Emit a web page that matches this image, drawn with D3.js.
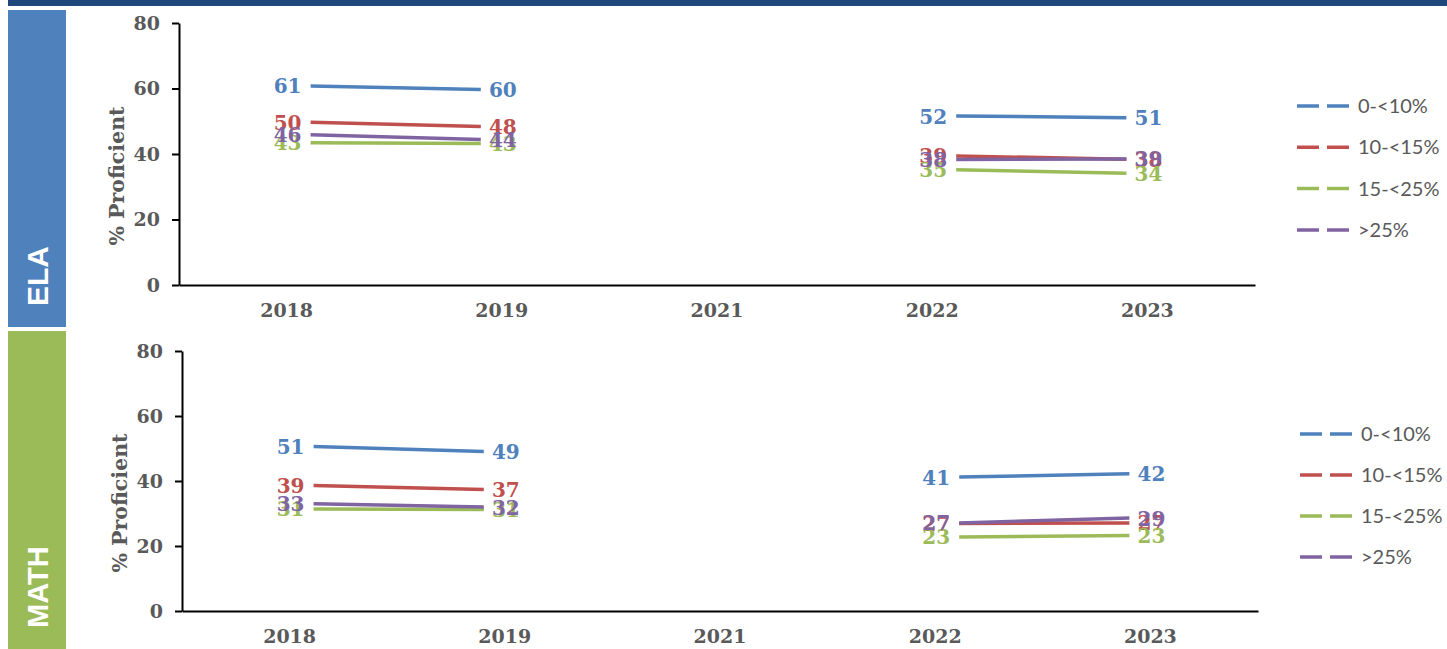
<!DOCTYPE html>
<html>
<head>
<meta charset="utf-8">
<script src="https://cdn.jsdelivr.net/npm/d3@7"></script>
<style>
  body { margin: 0; background: #fff; }
  svg { display: block; }
</style>
</head>
<body>
<div id="chart"></div>
<script>
// Chart values
var years = ["2018", "2019", "2021", "2022", "2023"];
var groups = ["0-<10%", "10-<15%", "15-<25%", ">25%"];
var colors = ["#4F81BD", "#C0504D", "#9BBB59", "#8064A2"];
var yTicks = [0, 20, 40, 60, 80];

// ELA, % proficient (2021 not tested)
var elaLow = [60.8, 59.7, null, 51.6, 51.1];
var elaMidLow = [49.7, 48.4, null, 39.4, 38.4];
var elaMidHigh = [43.4, 43.2, null, 35.2, 34.1];
var elaHigh = [45.9, 44.4, null, 38.3, 38.5];

// MATH, % proficient
var mathLow = [50.6, 49.1, null, 41.2, 42.2];
var mathMidLow = [38.6, 37.4, null, 26.9, 27.1];
var mathMidHigh = [31.4, 31.2, null, 22.8, 23.2];
var mathHigh = [33.0, 32.0, null, 27.1, 28.6];

var W = 1447, H = 649;
var svg = d3.select("#chart").append("svg")
    .attr("width", W)
    .attr("height", H);

// dark strip across the top
svg.append("rect")
    .attr("x", 8).attr("y", 0)
    .attr("width", W - 8).attr("height", 6)
    .attr("fill", "#1F497D");

var numFont = "'DejaVu Serif', 'Liberation Serif', serif";

function drawPanel(opts) {
    var series = opts.series;

    // coloured side tab with the subject name
    svg.append("rect")
        .attr("x", 8).attr("y", opts.tabTop)
        .attr("width", 58).attr("height", opts.tabBottom - opts.tabTop)
        .attr("fill", opts.tabColor);
    svg.append("text")
        .attr("transform", "translate(48," + (opts.tabBottom - 21) + ") rotate(-90)")
        .attr("font-family", "'Liberation Sans', Arial, sans-serif")
        .attr("font-weight", "bold")
        .attr("font-size", opts.tabFont)
        .attr("fill", "#fff")
        .text(opts.name);

    var x = d3.scaleBand()
        .domain(years)
        .range([opts.left, opts.right]);
    var y = d3.scaleLinear()
        .domain([0, 80])
        .range([opts.bottom, opts.top]);

    var g = svg.append("g");

    // Y axis
    var yAxis = g.append("g")
        .attr("transform", "translate(" + opts.left + ",0)")
        .call(d3.axisLeft(y).tickValues(yTicks).tickSize(7).tickSizeOuter(0).tickPadding(12));
    yAxis.selectAll("line, path").attr("stroke", "#000").attr("stroke-width", 2);
    yAxis.selectAll("text")
        .attr("font-family", numFont)
        .attr("font-weight", "bold")
        .attr("font-size", 19)
        .attr("fill", "#595959");

    // X axis
    var xAxis = g.append("g")
        .attr("transform", "translate(0," + opts.bottom + ")")
        .call(d3.axisBottom(x).tickSize(0).tickSizeOuter(0).tickPadding(19));
    xAxis.select("path").attr("stroke", "#000").attr("stroke-width", 2);
    xAxis.selectAll("text")
        .attr("font-family", numFont)
        .attr("font-weight", "bold")
        .attr("font-size", 19)
        .attr("fill", "#595959");

    // Y title
    svg.append("text")
        .attr("transform", "translate(" + (opts.left - 55) + "," + ((opts.top + opts.bottom) / 2 + 22) + ") rotate(-90)")
        .attr("text-anchor", "middle")
        .attr("font-family", numFont)
        .attr("font-weight", "bold")
        .attr("font-size", 20.5)
        .attr("fill", "#595959")
        .text("% Proficient");

    // Lines: segments between consecutive years that have data,
    // pulled in from the year centres so the labels sit at the ends
    var cx = function (yr) { return x(yr) + x.bandwidth() / 2; };
    var line = d3.line()
        .x(function (d) { return d.x; })
        .y(function (d) { return y(d.v); });

    series.forEach(function (vals, s) {
        for (var i = 0; i < years.length - 1; i++) {
            if (vals[i] == null || vals[i + 1] == null) continue;
            g.append("path")
                .datum([{ x: cx(years[i]) + 24, v: vals[i] },
                        { x: cx(years[i + 1]) - 21, v: vals[i + 1] }])
                .attr("fill", "none")
                .attr("stroke", colors[s])
                .attr("stroke-width", 3.5)
                .attr("d", line);
        }
    });

    // Data labels
    series.forEach(function (vals, s) {
        vals.forEach(function (v, i) {
            if (v == null) return;
            g.append("text")
                .attr("x", cx(years[i]) + 1)
                .attr("y", y(v) + 7.5)
                .attr("text-anchor", "middle")
                .attr("font-family", numFont)
                .attr("font-weight", "bold")
                .attr("font-size", 20)
                .attr("fill", colors[s])
                .text(Math.round(v));
        });
    });

    // Legend
    var lg = svg.append("g")
        .attr("transform", "translate(" + opts.legendX + "," + opts.legendY + ")");
    groups.forEach(function (name, s) {
        var row = lg.append("g").attr("transform", "translate(0," + s * opts.legendStep + ")");
        row.append("line")
            .attr("x1", 0).attr("x2", 55)
            .attr("stroke", colors[s])
            .attr("stroke-width", 3.5)
            .attr("stroke-dasharray", "22,8");
        row.append("text")
            .attr("x", 61)
            .attr("y", 7)
            .attr("font-family", "Lato, 'Open Sans', sans-serif")
            .attr("font-size", 20)
            .attr("fill", "#595959")
            .text(name);
    });
}

drawPanel({
    name: "ELA", tabColor: "#4F81BD", tabTop: 10, tabBottom: 327, tabFont: 30,
    left: 179, right: 1255, top: 23, bottom: 285,
    legendX: 1297, legendY: 106, legendStep: 41.3,
    series: [elaLow, elaMidLow, elaMidHigh, elaHigh]
});

drawPanel({
    name: "MATH", tabColor: "#9BBB59", tabTop: 331, tabBottom: 649, tabFont: 29,
    left: 182, right: 1258, top: 351, bottom: 611,
    legendX: 1300, legendY: 434, legendStep: 41,
    series: [mathLow, mathMidLow, mathMidHigh, mathHigh]
});
</script>
</body>
</html>
